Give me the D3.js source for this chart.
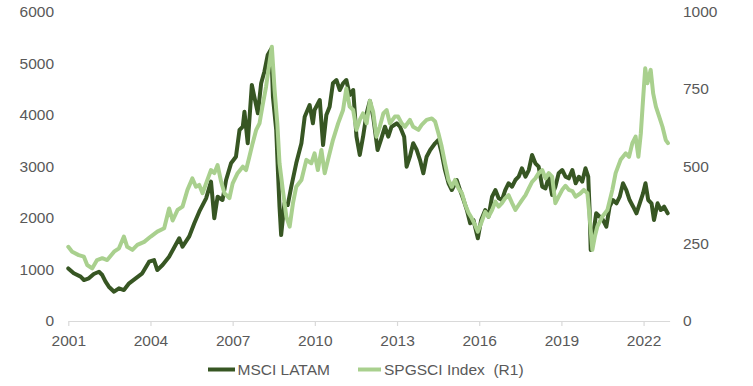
<!DOCTYPE html>
<html>
<head>
<meta charset="utf-8">
<script src="https://cdn.jsdelivr.net/npm/d3@7"></script>
<style>
  html, body { margin: 0; padding: 0; background: #ffffff; }
  svg { display: block; }
  text { font-family: "Liberation Sans", Arial, sans-serif; fill: #595959; }
</style>
</head>
<body>
<svg id="chart" width="753" height="386"></svg>
<script>
// ---- Data ----
const xTickYears = [2001, 2004, 2007, 2010, 2013, 2016, 2019, 2022];
const leftTicks = [0, 1000, 2000, 3000, 4000, 5000, 6000];
const rightTicks = [0, 250, 500, 750, 1000];
const seriesNames = ["MSCI LATAM", "SPGSCI Index  (R1)"];

const msciYears = [2001.00, 2001.20, 2001.45, 2001.57, 2001.75, 2001.93, 2002.12, 2002.24, 2002.36, 2002.48, 2002.67, 2002.85, 2003.03, 2003.22, 2003.46, 2003.70, 2003.95, 2004.13, 2004.25, 2004.44, 2004.68, 2004.86, 2005.05, 2005.17, 2005.41, 2005.60, 2005.78, 2006.03, 2006.21, 2006.33, 2006.45, 2006.63, 2006.76, 2006.94, 2007.12, 2007.25, 2007.37, 2007.43, 2007.55, 2007.70, 2007.79, 2007.92, 2008.04, 2008.16, 2008.28, 2008.41, 2008.47, 2008.59, 2008.65, 2008.71, 2008.77, 2008.89, 2009.01, 2009.14, 2009.32, 2009.51, 2009.63, 2009.81, 2009.93, 2009.99, 2010.18, 2010.30, 2010.42, 2010.54, 2010.66, 2010.79, 2010.91, 2011.03, 2011.15, 2011.27, 2011.40, 2011.52, 2011.64, 2011.76, 2011.89, 2012.01, 2012.13, 2012.29, 2012.41, 2012.56, 2012.68, 2012.80, 2012.99, 2013.11, 2013.26, 2013.35, 2013.47, 2013.59, 2013.72, 2013.84, 2013.96, 2014.08, 2014.21, 2014.39, 2014.51, 2014.63, 2014.75, 2014.88, 2015.00, 2015.18, 2015.30, 2015.43, 2015.55, 2015.67, 2015.79, 2015.95, 2016.07, 2016.22, 2016.34, 2016.47, 2016.59, 2016.71, 2016.83, 2016.95, 2017.07, 2017.20, 2017.32, 2017.44, 2017.56, 2017.69, 2017.81, 2017.93, 2018.05, 2018.17, 2018.30, 2018.42, 2018.54, 2018.66, 2018.78, 2018.90, 2019.03, 2019.15, 2019.27, 2019.40, 2019.52, 2019.64, 2019.76, 2019.88, 2019.98, 2020.03, 2020.07, 2020.15, 2020.27, 2020.40, 2020.52, 2020.64, 2020.76, 2020.88, 2021.01, 2021.13, 2021.25, 2021.37, 2021.49, 2021.62, 2021.74, 2021.86, 2021.98, 2022.07, 2022.17, 2022.29, 2022.38, 2022.51, 2022.63, 2022.75, 2022.88];
const msciValues = [1020, 925, 860, 795, 828, 912, 956, 892, 762, 665, 568, 634, 601, 731, 828, 925, 1150, 1183, 989, 1086, 1247, 1420, 1604, 1441, 1635, 1895, 2120, 2380, 2703, 1992, 2411, 2347, 2735, 3059, 3187, 3705, 3769, 4060, 3447, 4578, 4351, 4029, 4611, 4840, 5160, 5280, 4351, 3705, 2929, 2217, 1668, 2283, 2250, 2605, 3059, 3447, 3963, 4190, 3835, 4093, 4287, 3414, 3996, 4157, 4611, 4675, 4481, 4611, 4675, 4384, 4481, 3575, 3220, 3575, 4029, 4270, 3960, 3317, 3511, 3769, 3575, 3769, 3835, 3769, 3575, 2993, 3187, 3447, 3317, 3123, 2865, 3187, 3317, 3447, 3511, 3253, 2929, 2671, 2541, 2735, 2541, 2347, 2153, 1895, 1959, 1604, 1959, 2153, 2023, 2411, 2541, 2380, 2347, 2541, 2671, 2605, 2735, 2799, 2962, 2799, 2929, 3220, 3059, 2993, 2605, 2573, 2799, 2444, 2605, 2865, 2929, 2800, 2768, 2929, 2671, 2799, 2703, 2962, 2799, 2153, 1377, 1635, 2089, 2023, 1959, 1829, 2217, 2347, 2283, 2411, 2671, 2541, 2347, 2217, 2089, 2283, 2476, 2671, 2347, 2283, 1959, 2283, 2153, 2217, 2089];

const spgsciYears = [2001.00, 2001.14, 2001.38, 2001.57, 2001.69, 2001.87, 2002.05, 2002.24, 2002.42, 2002.67, 2002.85, 2003.03, 2003.15, 2003.34, 2003.52, 2003.77, 2004.01, 2004.25, 2004.50, 2004.68, 2004.81, 2004.99, 2005.17, 2005.35, 2005.53, 2005.66, 2005.78, 2005.90, 2006.03, 2006.21, 2006.33, 2006.45, 2006.58, 2006.70, 2006.88, 2007.00, 2007.18, 2007.37, 2007.49, 2007.61, 2007.73, 2007.86, 2007.98, 2008.04, 2008.10, 2008.22, 2008.34, 2008.43, 2008.53, 2008.63, 2008.71, 2008.83, 2008.96, 2009.08, 2009.20, 2009.32, 2009.51, 2009.69, 2009.87, 2009.99, 2010.11, 2010.24, 2010.36, 2010.48, 2010.66, 2010.85, 2011.03, 2011.15, 2011.27, 2011.40, 2011.52, 2011.64, 2011.76, 2011.89, 2012.01, 2012.13, 2012.25, 2012.37, 2012.50, 2012.62, 2012.74, 2012.92, 2013.04, 2013.17, 2013.29, 2013.47, 2013.59, 2013.78, 2013.90, 2014.08, 2014.27, 2014.39, 2014.51, 2014.63, 2014.75, 2014.88, 2015.00, 2015.12, 2015.24, 2015.37, 2015.49, 2015.61, 2015.73, 2015.85, 2015.95, 2016.07, 2016.22, 2016.34, 2016.47, 2016.59, 2016.71, 2016.83, 2016.95, 2017.07, 2017.20, 2017.32, 2017.44, 2017.56, 2017.69, 2017.81, 2017.93, 2018.05, 2018.17, 2018.30, 2018.42, 2018.54, 2018.66, 2018.78, 2018.90, 2019.03, 2019.15, 2019.27, 2019.40, 2019.52, 2019.70, 2019.82, 2019.95, 2020.03, 2020.13, 2020.22, 2020.31, 2020.49, 2020.68, 2020.86, 2020.98, 2021.16, 2021.35, 2021.47, 2021.59, 2021.71, 2021.81, 2021.90, 2021.98, 2022.06, 2022.14, 2022.26, 2022.35, 2022.45, 2022.57, 2022.69, 2022.81, 2022.89];
const spgsciValues = [240, 224, 213, 208, 181, 170, 197, 203, 197, 224, 235, 273, 240, 230, 246, 256, 273, 289, 300, 364, 325, 359, 370, 424, 461, 434, 440, 413, 445, 488, 478, 504, 450, 413, 397, 445, 478, 499, 488, 531, 575, 618, 639, 670, 700, 758, 833, 887, 747, 639, 510, 424, 337, 305, 380, 434, 456, 521, 510, 542, 488, 553, 478, 521, 585, 639, 682, 752, 693, 682, 618, 650, 671, 639, 712, 676, 596, 628, 671, 682, 639, 661, 661, 639, 628, 650, 628, 618, 634, 650, 655, 645, 607, 564, 510, 456, 434, 456, 429, 413, 376, 350, 332, 310, 289, 316, 353, 337, 359, 386, 370, 381, 397, 407, 381, 359, 375, 391, 407, 429, 450, 461, 478, 488, 461, 478, 467, 381, 402, 424, 437, 424, 420, 402, 413, 424, 413, 337, 230, 273, 305, 337, 359, 424, 478, 521, 542, 531, 575, 596, 531, 607, 715, 817, 769, 812, 736, 693, 661, 628, 585, 575];

// ---- Layout ----
const colors = ["#375623", "#A9D08E"];
const svg = d3.select("#chart");
const fontSize = "15.5px";
const lineWidth = 4;

const x = d3.scaleLinear().domain([2001, 2022.95]).range([68.3, 669.6]);
const yL = d3.scaleLinear().domain([0, 6000]).range([321, 11.7]);
const yR = d3.scaleLinear().domain([0, 1000]).range([321, 11.7]);

// X axis
const xAxis = d3.axisBottom(x)
  .tickValues(xTickYears)
  .tickFormat(d3.format("d"))
  .tickSize(5)
  .tickSizeOuter(0)
  .tickPadding(8.5);
const gx = svg.append("g").attr("transform", "translate(0,321)").call(xAxis);
gx.select(".domain").attr("stroke", "#D9D9D9").attr("stroke-width", 1.2);
gx.selectAll(".tick line").attr("stroke", "#D9D9D9").attr("stroke-width", 1.2);
gx.selectAll("text").style("font-size", fontSize).style("fill", "#595959")
  .style("font-family", "'Liberation Sans', Arial, sans-serif");

// Left axis
const gl = svg.append("g").attr("transform", "translate(57,0)")
  .call(d3.axisLeft(yL).tickValues(leftTicks).tickFormat(d3.format("d")).tickSize(0).tickPadding(3));
gl.select(".domain").remove();
gl.selectAll("text").style("font-size", fontSize).style("fill", "#595959")
  .style("font-family", "'Liberation Sans', Arial, sans-serif");

// Right axis
const gr = svg.append("g").attr("transform", "translate(680,0)")
  .call(d3.axisRight(yR).tickValues(rightTicks).tickFormat(d3.format("d")).tickSize(0).tickPadding(3));
gr.select(".domain").remove();
gr.selectAll("text").style("font-size", fontSize).style("fill", "#595959")
  .style("font-family", "'Liberation Sans', Arial, sans-serif");

// Lines
const msciData = msciYears.map((t, i) => ({ t, v: msciValues[i] }));
const spgData = spgsciYears.map((t, i) => ({ t, v: spgsciValues[i] }));

const lineL = d3.line().x(d => x(d.t)).y(d => yL(d.v));
const lineR = d3.line().x(d => x(d.t)).y(d => yR(d.v));

svg.append("path").datum(msciData).attr("d", lineL)
  .attr("fill", "none").attr("stroke", colors[0]).attr("stroke-width", lineWidth)
  .attr("stroke-linejoin", "round").attr("stroke-linecap", "round");
svg.append("path").datum(spgData).attr("d", lineR)
  .attr("fill", "none").attr("stroke", colors[1]).attr("stroke-width", lineWidth)
  .attr("stroke-linejoin", "round").attr("stroke-linecap", "round");

// Legend
const legendItems = [
  { name: seriesNames[0], color: colors[0], x0: 208, x1: 235, tx: 237.5 },
  { name: seriesNames[1], color: colors[1], x0: 358, x1: 381, tx: 384 }
];
const lg = svg.append("g");
legendItems.forEach(it => {
  lg.append("line").attr("x1", it.x0).attr("x2", it.x1).attr("y1", 369.5).attr("y2", 369.5)
    .attr("stroke", it.color).attr("stroke-width", lineWidth);
  lg.append("text").attr("x", it.tx).attr("y", 369.5).attr("dy", "0.35em")
    .style("font-size", fontSize).style("white-space", "pre").text(it.name);
});
</script>
</body>
</html>
